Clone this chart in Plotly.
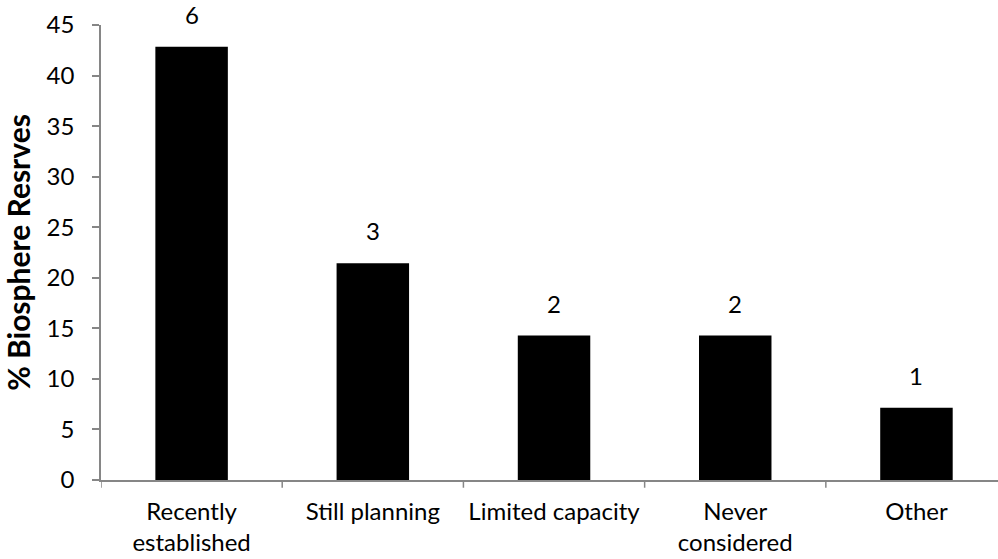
import plotly.graph_objects as go

categories = ["Recently<br>established", "Still planning", "Limited capacity",
              "Never<br>considered", "Other"]
percent_reserves = [42.86, 21.43, 14.29, 14.29, 7.14]
reserve_counts = [6, 3, 2, 2, 1]
y_ticks = [0, 5, 10, 15, 20, 25, 30, 35, 40, 45]

FONT = "Lato, 'Open Sans', sans-serif"
AXIS_GRAY = "#868686"
LABEL_SIZE = 24

fig = go.Figure()
fig.add_trace(go.Bar(
    x=list(range(len(categories))),
    y=percent_reserves,
    width=0.4,
    marker=dict(color="black", line=dict(width=0)),
    hoverinfo="skip",
))

# count of biosphere reserves above each bar
for i, (v, n) in enumerate(zip(percent_reserves, reserve_counts)):
    fig.add_annotation(x=i, y=v, text=str(n), showarrow=False,
                       yanchor="bottom", yshift=16,
                       font=dict(family=FONT, size=LABEL_SIZE, color="black"))

fig.update_layout(
    width=998, height=559,
    margin=dict(l=101, r=0, t=25, b=79),
    paper_bgcolor="white", plot_bgcolor="white",
    showlegend=False,
    font=dict(family=FONT, size=LABEL_SIZE, color="black"),
)
fig.update_xaxes(
    range=[-0.5, 4.45],
    tickmode="array",
    tickvals=list(range(len(categories))),
    ticktext=categories,
    showline=True, linecolor=AXIS_GRAY, linewidth=1.5,
    showgrid=False, zeroline=False,
    ticks="",
    ticklabelstandoff=9,
    tickfont=dict(family=FONT, size=LABEL_SIZE, color="black"),
)
# boundary ticks between categories
for b in [-0.5, 0.5, 1.5, 2.5, 3.5]:
    fig.add_shape(type="line", xref="x", yref="paper",
                  x0=b, x1=b, y0=0, y1=-0.017,
                  line=dict(color=AXIS_GRAY, width=1.5))
fig.update_yaxes(
    range=[0, 45],
    tickvals=y_ticks,
    showline=True, linecolor=AXIS_GRAY, linewidth=1.5,
    showgrid=False, zeroline=False,
    ticks="outside", ticklen=7, tickcolor=AXIS_GRAY, tickwidth=1.5,
    ticklabelstandoff=13,
    tickfont=dict(family=FONT, size=LABEL_SIZE, color="black"),
    title=dict(text="<b>% Biosphere Resrves</b>", standoff=9,
               font=dict(family=FONT, size=30, color="black")),
)

fig.write_html("out.html")
